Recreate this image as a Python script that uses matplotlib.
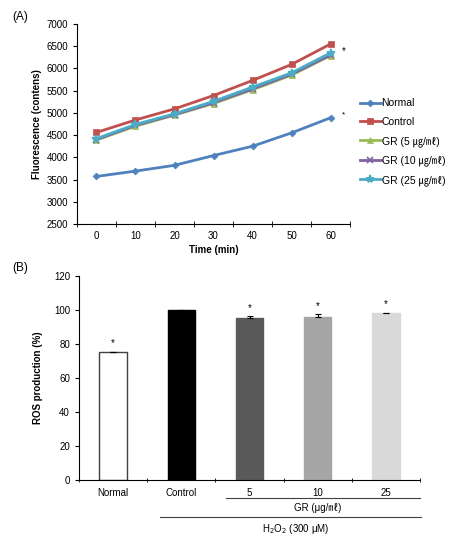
import numpy as np
import matplotlib as mpl
mpl.use('Agg')
import matplotlib.pyplot as plt

plt.rcParams['font.family'] = ['Liberation Sans', 'Noto Sans CJK KR', 'DejaVu Sans']

# panel A data
times = [0, 10, 20, 30, 40, 50, 60]
normal = [3570, 3690, 3820, 4040, 4250, 4550, 4890]
control = [4560, 4840, 5090, 5390, 5730, 6090, 6550]
gr5 = [4390, 4700, 4950, 5210, 5520, 5850, 6290]
gr10 = [4400, 4720, 4960, 5230, 5540, 5870, 6300]
gr25 = [4420, 4740, 4980, 5260, 5580, 5900, 6350]
line_labels = ['Normal', 'Control', 'GR (5 ㎍/㎖)', 'GR (10 ㎍/㎖)', 'GR (25 ㎍/㎖)']

# panel B data
groups = ['Normal', 'Control', '5', '10', '25']
ros = [75.0, 100.0, 95.5, 96.0, 98.0]
ros_err = [0.3, 0.2, 0.8, 1.5, 0.2]
sig_b = [True, False, True, True, True]

fig = plt.figure(figsize=(4.5, 5.4), dpi=100)

# ---- (A) ----
ax = fig.add_axes([0.171, 0.5852, 0.607, 0.3704])
styles = [('#4F81BD', 'D', 3.5), ('#C0504D', 's', 5), ('#9BBB59', '^', 5),
          ('#8064A2', 'x', 5), ('#4BACC6', '*', 6)]
for ys, lab, (col, mk, ms) in zip([normal, control, gr5, gr10, gr25], line_labels, styles):
    ax.plot(times, ys, color=col, marker=mk, markersize=ms, lw=2, label=lab,
            markeredgewidth=1.2 if mk in ('x', '*') else 0.5)
ax.set_xlim(-5, 65)
ax.set_ylim(2500, 7000)
ax.set_yticks(np.arange(2500, 7001, 500))
ax.set_xticks(times)
ax.set_xticks(np.arange(-5, 66, 10), minor=True)
ax.tick_params(axis='x', which='major', length=0, labelsize=7, pad=5)
ax.tick_params(axis='x', which='minor', length=4, direction='inout')
ax.tick_params(axis='y', labelsize=7, length=3, direction='out')
for s in ['top', 'right']:
    ax.spines[s].set_visible(False)
ax.set_xlabel('Time (min)', fontsize=7, fontweight='bold', labelpad=3)
ax.set_ylabel('Fluorescence (contens)', fontsize=7, fontweight='bold', labelpad=3)
ax.text(63.3, 6400, '*', fontsize=7, ha='center', va='center')
ax.text(63.3, 4960, '*', fontsize=6, ha='center', va='center')
ax.legend(loc='center left', bbox_to_anchor=(1.02, 0.41), frameon=False,
          fontsize=7.5, handlelength=2.0, handletextpad=0.1, labelspacing=0.85,
          borderaxespad=0)
fig.text(0.027, 0.968, '(A)', fontsize=8.5, va='center')

# ---- (B) ----
bx = fig.add_axes([0.1756, 0.1111, 0.758, 0.3778])
xpos = np.arange(len(groups))
bar_cols = ['white', 'black', '#595959', '#A6A6A6', '#D9D9D9']
edge_cols = ['#404040', 'black', '#595959', '#A6A6A6', '#D9D9D9']
bx.bar(xpos, ros, width=0.4, color=bar_cols, edgecolor=edge_cols, linewidth=1)
bx.errorbar(xpos, ros, yerr=[np.zeros(len(ros)), ros_err], fmt='none', ecolor='black',
            capsize=2, elinewidth=0.8, capthick=0.8)
for x, v, e, s in zip(xpos, ros, ros_err, sig_b):
    if s:
        bx.text(x, v + e + 5, '*', fontsize=7, ha='center', va='center')
bx.set_xlim(-0.5, len(groups) - 0.5)
bx.set_ylim(0, 120)
bx.set_yticks(np.arange(0, 121, 20))
bx.set_xticks(xpos)
bx.set_xticklabels(groups)
bx.set_xticks(np.arange(-0.5, len(groups), 1), minor=True)
bx.tick_params(axis='x', which='major', length=0, labelsize=7, pad=6)
bx.tick_params(axis='x', which='minor', length=3, direction='inout')
bx.tick_params(axis='y', labelsize=7, length=3, direction='out')
for s in ['top', 'right']:
    bx.spines[s].set_visible(False)
bx.set_ylabel('ROS production (%)', fontsize=7, fontweight='bold', labelpad=8)

trans = bx.get_xaxis_transform()
bx.plot([1.65, 4.5], [-0.09, -0.09], color='#404040', lw=0.8, transform=trans, clip_on=False)
bx.text(3.0, -0.135, 'GR (μg/㎖)', fontsize=7, ha='center', va='center', transform=trans)
bx.plot([0.68, 4.52], [-0.183, -0.183], color='#404040', lw=0.8, transform=trans, clip_on=False)
bx.text(2.67, -0.24, 'H$_2$O$_2$ (300 μM)', fontsize=7, ha='center', va='center',
        transform=trans)
fig.text(0.027, 0.503, '(B)', fontsize=8.5, va='center')

plt.savefig('out.png', dpi=100)
plt.close(fig)
